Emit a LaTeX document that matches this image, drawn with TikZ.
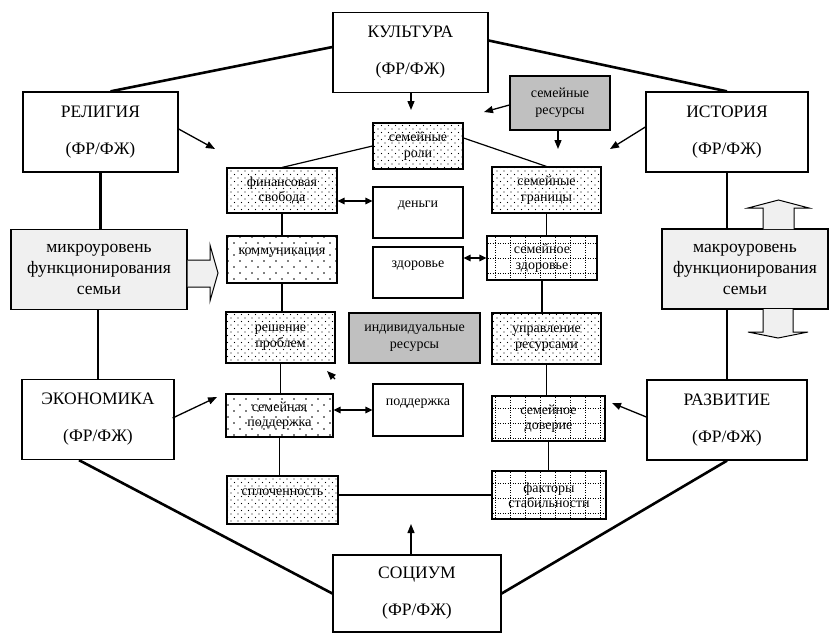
\documentclass[tikz,border=0pt]{standalone}
\usepackage{fontspec}
\setmainfont{Liberation Serif}
\usepackage{xcolor}
\usetikzlibrary{arrows.meta}
\usetikzlibrary{patterns}
\definecolor{gris}{RGB}{192,192,192}
\definecolor{clair}{RGB}{240,240,240}
\pgfdeclarepatternformonly{densedots}{\pgfpoint{-1pt}{-1pt}}{\pgfpoint{8pt}{8pt}}{\pgfpoint{7pt}{7pt}}{
  \pgfpathcircle{\pgfpoint{0pt}{0pt}}{0.7pt}
  \pgfpathcircle{\pgfpoint{3.5pt}{3.5pt}}{0.7pt}
  \pgfusepath{fill}}
\pgfdeclarepatternformonly{sparsedots}{\pgfpoint{-1pt}{-1pt}}{\pgfpoint{13pt}{13pt}}{\pgfpoint{12pt}{12pt}}{
  \pgfpathcircle{\pgfpoint{0pt}{0pt}}{0.8pt}
  \pgfpathcircle{\pgfpoint{6pt}{6pt}}{0.8pt}
  \pgfusepath{fill}}
\pgfdeclarepatternformonly{dotgrid}{\pgfpoint{-1pt}{-1pt}}{\pgfpoint{16pt}{16pt}}{\pgfpoint{15pt}{15pt}}{
  \pgfsetlinewidth{0.9pt}
  \pgfsetdash{{1pt}{1.5pt}}{0pt}
  \pgfpathmoveto{\pgfpoint{0pt}{0pt}}\pgfpathlineto{\pgfpoint{15pt}{0pt}}
  \pgfpathmoveto{\pgfpoint{0pt}{0pt}}\pgfpathlineto{\pgfpoint{0pt}{15pt}}
  \pgfusepath{stroke}}
\tikzstyle{facteur}=[draw,line width=1.3pt,minimum width=155pt,minimum height=80pt,
  align=center,font=\fontsize{17.5}{37}\selectfont]
\tikzstyle{niveau}=[draw,line width=1.2pt,fill=clair,minimum width=176pt,minimum height=80pt,
  align=center,font=\fontsize{17.5}{21}\selectfont]
\tikzstyle{ressource}=[draw,line width=1.2pt,fill=gris,align=center,font=\fontsize{14}{17}\selectfont]
\tikzstyle{bloc}=[draw,line width=1.1pt,minimum width=90pt,minimum height=51pt,
  text height=10pt,text depth=20pt,font=\fontsize{14}{16}\selectfont]
\tikzstyle{motif}=[draw,line width=1.1pt,align=center,minimum width=110pt,minimum height=46pt,
  font=\fontsize{14}{15.5}\selectfont]
\tikzstyle{pointsdenses}=[motif,pattern=densedots]
\tikzstyle{pointsrares}=[motif,pattern=sparsedots]
\tikzstyle{grille}=[motif,pattern=dotgrid]
\tikzstyle{enhaut}=[text height=10pt,text depth=20pt]
\tikzstyle{suite}=[-{Triangle[length=9pt,width=7pt]},line width=1.3pt]
\tikzstyle{echange}=[{Triangle[length=7pt,width=6.5pt]}-{Triangle[length=7pt,width=6.5pt]},line width=1.3pt]
\tikzstyle{lien}=[line width=1.2pt]
\tikzstyle{liengras}=[line width=2.6pt]
\tikzstyle{grossefleche}=[draw,line width=1pt,fill=clair]
\begin{document}
\begin{tikzpicture}[x=1pt,y=-1pt]
\useasboundingbox (0,0) rectangle (829,633);
\node[facteur] (kult) at (410.5,52.5) {КУЛЬТУРА\\(ФР/ФЖ)};
\node[facteur] (relig) at (100.5,132) {РЕЛИГИЯ\\(ФР/ФЖ)};
\node[facteur,minimum width=162pt] (hist) at (727,132) {ИСТОРИЯ\\(ФР/ФЖ)};
\node[facteur,minimum width=152pt] (econ) at (98,419.5) {ЭКОНОМИКА\\(ФР/ФЖ)};
\node[facteur,minimum width=160pt] (razv) at (727,420) {РАЗВИТИЕ\\(ФР/ФЖ)};
\node[facteur,minimum width=168pt,minimum height=77pt] (soc) at (417,593.5) {СОЦИУМ\\(ФР/ФЖ)};
\node[niveau] (micro) at (99,269.5) {микроуровень\\функционирования\\семьи};
\node[niveau,minimum width=166pt] (macro) at (745,269) {макроуровень\\функционирования\\семьи};
\node[ressource,minimum width=100pt,minimum height=54pt] (famres) at (560,103) {семейные\\ресурсы};
\node[ressource,minimum width=131pt,minimum height=50pt] (indres) at (414.5,338) {индивидуальные\\ресурсы};
\node[bloc] (money) at (418,212.5) {деньги};
\node[bloc] (health) at (418,272.5) {здоровье};
\node[bloc,minimum height=52pt] (support) at (418,410) {поддержка};
\node[pointsdenses,minimum width=90pt] (roles) at (418,146) {семейные\\роли};
\node[pointsdenses,minimum height=45pt] (finfree) at (282,190.5) {финансовая\\свобода};
\node[pointsrares,enhaut,minimum height=47pt] (comm) at (282,259.5) {коммуникация};
\node[pointsdenses,minimum width=109pt,minimum height=51pt] (solve) at (280.5,337.5) {решение\\проблем};
\node[pointsrares,minimum width=107pt,minimum height=43pt] (famsup) at (279.5,415.5) {семейная\\поддержка};
\node[pointsdenses,enhaut,minimum width=111pt,minimum height=48pt] (cohes) at (282.5,500) {сплоченность};
\node[pointsdenses,minimum width=109pt] (bounds) at (546.5,190) {семейные\\границы};
\node[grille,minimum height=44pt] (famhealth) at (542,258) {семейное\\здоровье};
\node[pointsdenses,minimum width=109pt,minimum height=51pt] (resman) at (546.5,338.5) {управление\\ресурсами};
\node[grille,minimum width=113pt,minimum height=45pt] (trust) at (548.5,418.5) {семейное\\доверие};
\node[grille,minimum width=114pt,minimum height=48pt] (stab) at (549,495) {факторы\\стабильности};
\coordinate (p1) at (411,110);
\coordinate (p2) at (484,112);
\coordinate (p3) at (558,149);
\coordinate (p4) at (215,149);
\coordinate (p5) at (610,149);
\coordinate (p6) at (217,397);
\coordinate (p7) at (612,403);
\coordinate (p8) at (411,524);
\coordinate (p9) at (335,379);
\coordinate (p10) at (327,371);
%Placementdesliens
\draw[liengras] ([yshift=5.5pt]kult.west) -- ([xshift=10pt]relig.north);
\draw[liengras] ([yshift=12pt]kult.east) -- (hist.north);
\draw[liengras] (relig.south) -- (relig.south |- micro.north);
\draw[liengras] (econ.north) -- (econ.north |- micro.south);
\draw[liengras] (hist.south) -- (hist.south |- macro.north);
\draw[liengras] (razv.north) -- (razv.north |- macro.south);
\draw[liengras] ([xshift=-19pt]econ.south) -- (soc.west);
\draw[liengras] (razv.south) -- (soc.east);
\draw[lien] (roles.west) -- (finfree.north);
\draw[lien] ([yshift=8pt]roles.east) -- (bounds.north);
\draw[lien] (finfree.south) -- (comm.north);
\draw[lien] (comm.south) -- (comm.south |- solve.north);
\draw[lien] (solve.south) -- (solve.south |- famsup.north);
\draw[lien] (famsup.south) -- (famsup.south |- cohes.north);
\draw[lien] (stab.west) -- (stab.west -| cohes.east);
\draw[lien] (bounds.south) -- (bounds.south |- famhealth.north);
\draw[lien] (famhealth.south) -- (famhealth.south |- resman.north);
\draw[lien] (resman.south) -- (resman.south |- trust.north);
\draw[lien] (trust.south) -- (trust.south |- stab.north);
\draw[echange] ([yshift=-10.5pt]finfree.east) -- ([yshift=11.5pt]money.west);
\draw[echange] (famhealth.west) -- (famhealth.west -| health.east);
\draw[echange] (support.west) -- (support.west -| famsup.east);
\draw[suite] (kult.south -| p1) -- (p1);
\draw[suite] ([yshift=-2pt]famres.west) -- (p2);
\draw[suite] (famres.south -| p3) -- (p3);
\draw[suite] ([yshift=3pt]relig.east) -- (p4);
\draw[suite] ([yshift=5pt]hist.west) -- (p5);
\draw[suite] ([xshift=-2pt,yshift=1.5pt]econ.east) -- (p6);
\draw[suite] ([yshift=3pt]razv.west) -- (p7);
\draw[suite] (soc.north -| p8) -- (p8);
\draw[suite] (p9) -- (p10);
\draw[grossefleche] (micro.east |- 0,260) -- (210,260) -- (210,245) -- (218,273)
  -- (210,301) -- (210,287) -- (micro.east |- 0,287);
\draw[grossefleche] (763,229) -- (763,208) -- (748,208) -- (778.5,200) -- (809,208)
  -- (794,208) -- (794,229);
\draw[grossefleche] (763,309) -- (763,332) -- (748,332) -- (778,338) -- (808,332)
  -- (793,332) -- (793,309);
\end{tikzpicture}
\end{document}
